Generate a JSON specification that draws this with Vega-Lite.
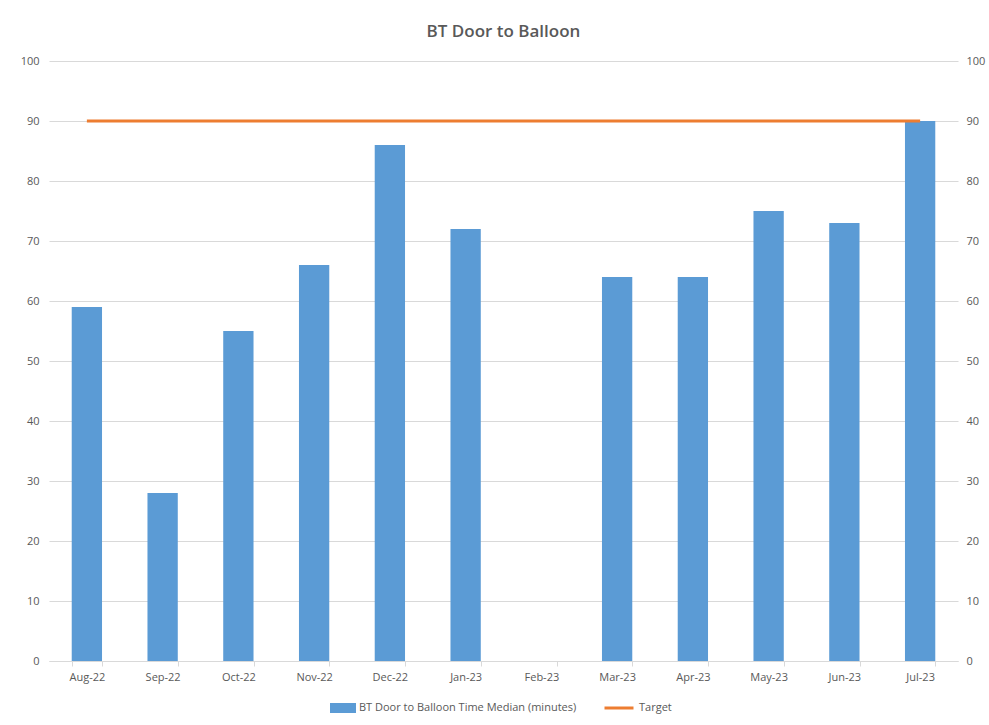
{
  "$schema": "https://vega.github.io/schema/vega-lite/v6.json",
  "width": 909,
  "height": 600,
  "autosize": {"type": "none"},
  "padding": {"left": 49, "top": 61, "right": 31, "bottom": 64},
  "background": "#ffffff",
  "title": {
    "text": "BT Door to Balloon",
    "fontSize": 17,
    "fontWeight": 600,
    "font": "Open Sans",
    "color": "#595959",
    "anchor": "middle",
    "offset": 14
  },
  "data": {
    "values": [
      {"month": "Aug-22", "median": 59, "target": 90},
      {"month": "Sep-22", "median": 28, "target": 90},
      {"month": "Oct-22", "median": 55, "target": 90},
      {"month": "Nov-22", "median": 66, "target": 90},
      {"month": "Dec-22", "median": 86, "target": 90},
      {"month": "Jan-23", "median": 72, "target": 90},
      {"month": "Feb-23", "median": null, "target": 90},
      {"month": "Mar-23", "median": 64, "target": 90},
      {"month": "Apr-23", "median": 64, "target": 90},
      {"month": "May-23", "median": 75, "target": 90},
      {"month": "Jun-23", "median": 73, "target": 90},
      {"month": "Jul-23", "median": 90, "target": 90}
    ]
  },
  "encoding": {
    "x": {
      "field": "month",
      "type": "nominal",
      "title": null,
      "scale": {
        "domain": ["Aug-22", "Sep-22", "Oct-22", "Nov-22", "Dec-22", "Jan-23", "Feb-23", "Mar-23", "Apr-23", "May-23", "Jun-23", "Jul-23"],
        "paddingInner": 0.6,
        "paddingOuter": 0.3
      },
      "axis": {
        "labelAngle": 0,
        "tickBand": "extent",
        "tickSize": 5,
        "tickColor": "#D9D9D9",
        "domainColor": "#D9D9D9",
        "labelColor": "#595959",
        "labelFontSize": 11,
        "labelFont": "Open Sans",
        "labelPadding": 5,
        "grid": false
      }
    }
  },
  "layer": [
    {
      "mark": {"type": "bar"},
      "encoding": {
        "y": {
          "field": "median",
          "type": "quantitative",
          "scale": {"domain": [0, 100]},
          "title": null,
          "axis": {
            "orient": "left",
            "values": [0, 10, 20, 30, 40, 50, 60, 70, 80, 90, 100],
            "domain": false,
            "ticks": false,
            "grid": true,
            "gridColor": "#D9D9D9",
            "labelColor": "#595959",
            "labelFontSize": 11,
            "labelFont": "Open Sans",
            "labelPadding": 10
          }
        },
        "fill": {
          "datum": "BT Door to Balloon Time Median (minutes)",
          "type": "nominal",
          "scale": {"range": ["#5B9BD5"]},
          "legend": {
            "title": null,
            "orient": "none",
            "legendX": 284,
            "legendY": 637,
            "symbolType": "M-1.3,-0.5H1.3V0.5H-1.3Z",
            "symbolSize": 400,
            "symbolStrokeWidth": 0,
            "labelOffset": 6,
            "labelLimit": 400,
            "labelColor": "#595959",
            "labelFontSize": 11,
            "labelFont": "Open Sans"
          }
        }
      }
    },
    {
      "mark": {"type": "line", "strokeWidth": 3},
      "encoding": {
        "y": {
          "field": "target",
          "type": "quantitative",
          "scale": {"domain": [0, 100]},
          "title": null,
          "axis": {
            "orient": "right",
            "values": [0, 10, 20, 30, 40, 50, 60, 70, 80, 90, 100],
            "domain": false,
            "ticks": false,
            "grid": false,
            "labelColor": "#595959",
            "labelFontSize": 11,
            "labelFont": "Open Sans",
            "labelPadding": 8
          }
        },
        "stroke": {
          "datum": "Target",
          "type": "nominal",
          "scale": {"range": ["#ED7D31"]},
          "legend": {
            "title": null,
            "orient": "none",
            "legendX": 554,
            "legendY": 631,
            "symbolType": "stroke",
            "symbolSize": 841,
            "symbolStrokeWidth": 3,
            "labelOffset": 4,
            "labelColor": "#595959",
            "labelFontSize": 11,
            "labelFont": "Open Sans"
          }
        }
      }
    }
  ],
  "resolve": {"scale": {"y": "independent", "fill": "independent", "stroke": "independent"}},
  "config": {"view": {"stroke": null}}
}
